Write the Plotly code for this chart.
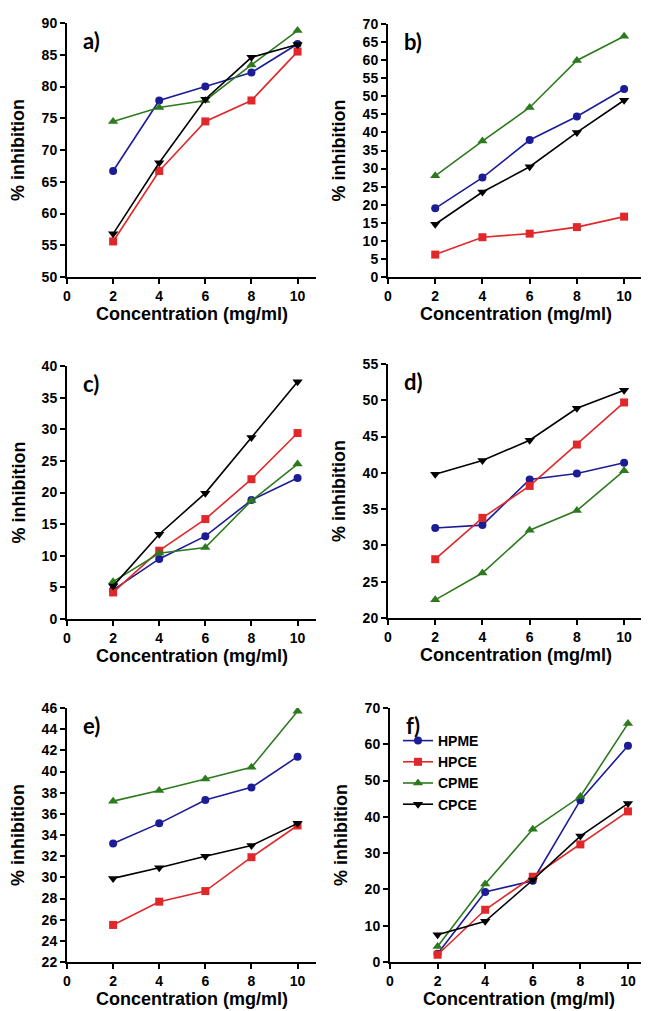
import plotly.graph_objects as go

# page offset of the figure (default body margin) and figure size
OFF = 8
W, H = 641, 1003

conc = [2, 4, 6, 8, 10]
x_ticks = [0, 2, 4, 6, 8, 10]
series_names = ["HPME", "HPCE", "CPME", "CPCE"]
panel_labels = ["a)", "b)", "c)", "d)", "e)", "f)"]

# panel a
a_hpme = [66.7, 77.8, 80.0, 82.2, 86.7]
a_hpce = [55.6, 66.7, 74.5, 77.8, 85.5]
a_cpme = [74.5, 76.7, 77.8, 83.4, 88.8]
a_cpce = [56.8, 68.0, 78.0, 84.6, 86.6]
# panel b
b_hpme = [19.0, 27.5, 37.9, 44.4, 52.0]
b_hpce = [6.2, 11.0, 12.0, 13.8, 16.7]
b_cpme = [28.0, 37.6, 46.9, 59.9, 66.6]
b_cpce = [14.6, 23.5, 30.5, 40.0, 48.9]
# panel c
c_hpme = [4.6, 9.5, 13.1, 18.8, 22.3]
c_hpce = [4.2, 10.8, 15.8, 22.1, 29.4]
c_cpme = [5.9, 10.4, 11.3, 18.7, 24.5]
c_cpce = [5.2, 13.4, 19.9, 28.7, 37.5]
# panel d
d_hpme = [32.4, 32.8, 39.1, 39.9, 41.4]
d_hpce = [28.1, 33.8, 38.2, 43.9, 49.7]
d_cpme = [22.5, 26.2, 32.1, 34.8, 40.3]
d_cpce = [39.8, 41.7, 44.5, 48.9, 51.4]
# panel e
e_hpme = [33.2, 35.1, 37.3, 38.5, 41.4]
e_hpce = [25.5, 27.7, 28.7, 31.9, 34.9]
e_cpme = [37.2, 38.2, 39.3, 40.4, 45.7]
e_cpce = [29.9, 30.9, 32.0, 33.0, 35.1]
# panel f
f_hpme = [2.3, 19.3, 22.4, 44.6, 59.6]
f_hpce = [2.0, 14.4, 23.5, 32.4, 41.5]
f_cpme = [4.3, 21.5, 36.6, 45.6, 65.7]
f_cpce = [7.5, 11.2, 22.6, 34.7, 43.7]

y_ranges = [[50, 90], [0, 70], [0, 40], [20, 55], [22, 46], [0, 70]]
y_dticks = [5, 5, 5, 5, 2, 10]

panels = [
    [a_hpme, a_hpce, a_cpme, a_cpce],
    [b_hpme, b_hpce, b_cpme, b_cpce],
    [c_hpme, c_hpce, c_cpme, c_cpce],
    [d_hpme, d_hpce, d_cpme, d_cpce],
    [e_hpme, e_hpce, e_cpme, e_cpce],
    [f_hpme, f_hpce, f_cpme, f_cpce],
]

# page-pixel boxes of each plot area (left, right, top, bottom)
boxes = [
    (67, 316, 23, 277),
    (388, 643, 24, 277),
    (67, 316, 366, 619),
    (388, 643, 364, 618),
    (67, 316, 708, 962),
    (390, 647, 708, 962),
]


def px(x):
    return (x - OFF) / W


def py(y):
    return 1 - (y - OFF) / H


colors = ["#1c1c96", "#e0282a", "#2d7a1e", "#000000"]
symbols = ["circle", "square", "triangle-up", "triangle-down"]
msizes = [8, 8, 9, 9]

fig = go.Figure()
layout = {}
annotations = []
title_font = dict(family="Liberation Sans, Arial", size=18, color="black")

for i, (data, box) in enumerate(zip(panels, boxes)):
    n = i + 1
    xa = "x" if n == 1 else f"x{n}"
    ya = "y" if n == 1 else f"y{n}"
    L, R, T, B = box
    xdom = [px(L), min(px(R), 1.0)]
    ydom = [py(B), py(T)]
    for k, vals in enumerate(data):
        fig.add_trace(go.Scatter(
            x=conc, y=vals, xaxis=xa, yaxis=ya, mode="lines+markers",
            name=series_names[k], showlegend=(n == 6),
            line=dict(color=colors[k], width=1.6),
            marker=dict(color=colors[k], symbol=symbols[k], size=msizes[k]),
        ))
    axis_common = dict(showline=True, linecolor="black", linewidth=2,
                       ticks="outside", ticklen=5, tickwidth=2, tickcolor="black",
                       showgrid=False, zeroline=False, automargin=False,
                       tickfont=dict(family="Liberation Sans, Arial", size=14, color="black", weight="bold"))
    layout["xaxis" if n == 1 else f"xaxis{n}"] = dict(
        domain=xdom, range=[0, 10.8], anchor=ya, tickmode="array",
        tickvals=x_ticks, ticktext=[str(t) for t in x_ticks], **axis_common)
    layout["yaxis" if n == 1 else f"yaxis{n}"] = dict(
        domain=ydom, range=y_ranges[i], anchor=xa, tick0=y_ranges[i][0],
        dtick=y_dticks[i], **axis_common)
    annotations.append(dict(
        text="<b>Concentration (mg/ml)</b>", xref="paper", yref="paper",
        x=px((L + R) / 2), y=py(B + 37), xanchor="center", yanchor="middle",
        showarrow=False, font=title_font))
    annotations.append(dict(
        text="<b>% inhibition</b>", xref="paper", yref="paper",
        x=px(L - 49), y=py((T + B) / 2), xanchor="center", yanchor="middle",
        textangle=-90, showarrow=False, font=title_font))
    annotations.append(dict(
        text="<b>" + panel_labels[i] + "</b>", xref="paper", yref="paper",
        x=px(L + 14), y=py(T + 17), xanchor="left", yanchor="middle",
        showarrow=False, font=dict(family="Lato, Open Sans", size=22, color="black")))

fig.update_layout(
    template="none",
    width=W, height=H, margin=dict(l=0, r=0, t=0, b=0, autoexpand=False),
    paper_bgcolor="white", plot_bgcolor="white",
    annotations=annotations,
    legend=dict(x=px(398), y=py(725), xanchor="left", yanchor="top",
                bgcolor="rgba(0,0,0,0)", tracegroupgap=0,
                font=dict(family="Liberation Sans, Arial", size=14, color="black", weight="bold")),
    **layout,
)

fig.write_html("out.html")
